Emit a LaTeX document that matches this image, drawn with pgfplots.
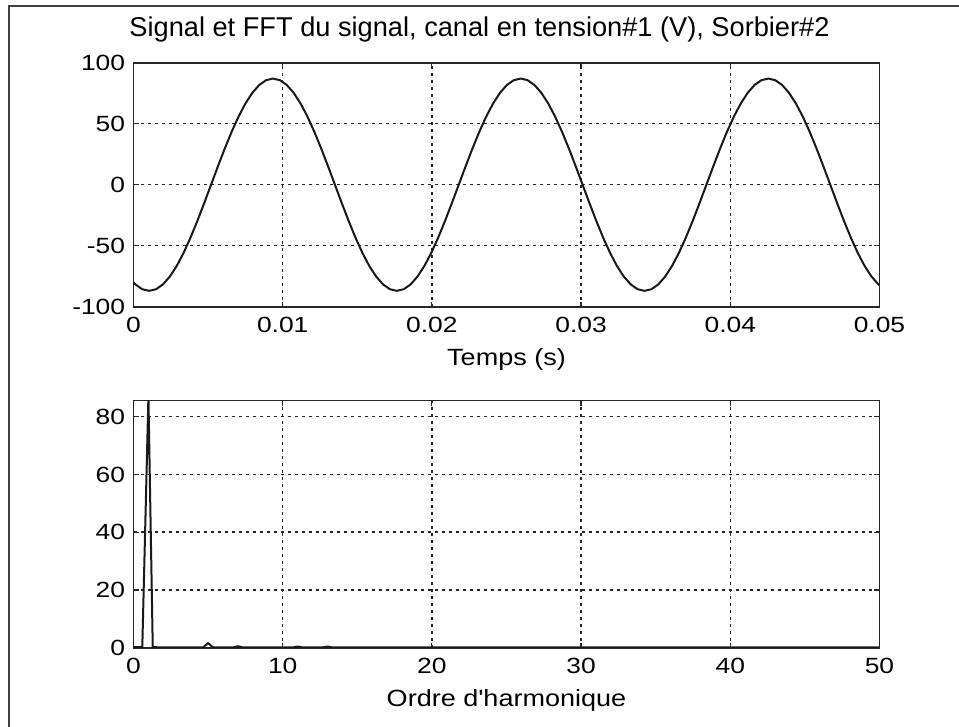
\documentclass[border=0pt]{standalone}
\usepackage{pgfplots}
\pgfplotsset{compat=1.18}
\usepackage{fontspec}
\setmainfont{Liberation Sans}
\newfontfamily\tickfont[FakeStretch=1.2]{Liberation Sans}
\newfontfamily\labelfont[FakeStretch=1.15]{Liberation Sans}
\pgfplotsset{mlab/.style={
  scale only axis, width=373pt,
  axis line style={line width=0.8pt, black!85},
  tick style={line width=0.6pt, black!85},
  major tick length=2.5pt,
  tick align=inside, xtick pos=both, ytick pos=both,
  xticklabel pos=lower, yticklabel pos=left,
  scaled x ticks=false, scaled y ticks=false,
  grid=major,
  major grid style={line width=0.75pt, black!85, dash pattern=on 1.5pt off 2pt},
  ticklabel style={font=\tickfont\fontsize{11}{13}\selectfont, inner sep=0pt},
  xticklabel style={yshift=-5pt},
  yticklabel style={xshift=-4pt},
  xlabel style={font=\labelfont\fontsize{11.75}{14}\selectfont, at={(axis description cs:0.5,0)}, anchor=north, yshift=-20.5pt, inner sep=0pt},
}}
\begin{document}
\begin{tikzpicture}
\useasboundingbox (0,0) rectangle (479.5pt,-363.5pt);
\draw[black!75, line width=0.7pt] (4.5pt,-363.5pt) -- (4.5pt,-3pt) -- (479.5pt,-3pt);
\draw[black!75, line width=1.1pt] (4.5pt,-3pt) -- (4.5pt,-59pt);
\node[anchor=base, inner sep=0pt] at (239.75pt,-18.35pt) {\fontsize{13.6}{16}\selectfont Signal et FFT du signal, canal en tension\#1 (V), Sorbier\#2};

\begin{axis}[mlab, height=122pt, at={(66.75pt,-153.35pt)}, anchor=south west,
  xmin=0, xmax=0.05, ymin=-100, ymax=100,
  xtick={0,0.01,0.02,0.03,0.04,0.05}, xticklabels={0,0.01,0.02,0.03,0.04,0.05},
  ytick={-100,-50,0,50,100}, yticklabels={-100,-50,0,50,100},
  xlabel={Temps (s)}]
\addplot[black!90, line width=1pt] coordinates {
(0,-80.2) (0.000128,-81.75) (0.000589,-85.68) (0.001050,-87) (0.001511,-85.68)
(0.001972,-81.75) (0.002433,-75.34) (0.002894,-66.65) (0.003356,-55.92) (0.003817,-43.5)
(0.004278,-29.76) (0.004739,-15.11) (0.005200,0) (0.005661,15.11) (0.006122,29.76)
(0.006583,43.5) (0.007044,55.92) (0.007506,66.65) (0.007967,75.34) (0.008428,81.75)
(0.008889,85.68) (0.009350,87) (0.009811,85.68) (0.010272,81.75) (0.010733,75.34)
(0.011194,66.65) (0.011656,55.92) (0.012117,43.5) (0.012578,29.76) (0.013039,15.11)
(0.013500,0) (0.013961,-15.11) (0.014422,-29.76) (0.014883,-43.5) (0.015344,-55.92)
(0.015806,-66.65) (0.016267,-75.34) (0.016728,-81.75) (0.017189,-85.68) (0.017650,-87)
(0.018111,-85.68) (0.018572,-81.75) (0.019033,-75.34) (0.019494,-66.65) (0.019956,-55.92)
(0.020417,-43.5) (0.020878,-29.76) (0.021339,-15.11) (0.021800,0) (0.022261,15.11)
(0.022722,29.76) (0.023183,43.5) (0.023644,55.92) (0.024106,66.65) (0.024567,75.34)
(0.025028,81.75) (0.025489,85.68) (0.025950,87) (0.026411,85.68) (0.026872,81.75)
(0.027333,75.34) (0.027794,66.65) (0.028256,55.92) (0.028717,43.5) (0.029178,29.76)
(0.029639,15.11) (0.030100,0) (0.030561,-15.11) (0.031022,-29.76) (0.031483,-43.5)
(0.031944,-55.92) (0.032406,-66.65) (0.032867,-75.34) (0.033328,-81.75) (0.033789,-85.68)
(0.034250,-87) (0.034711,-85.68) (0.035172,-81.75) (0.035633,-75.34) (0.036094,-66.65)
(0.036556,-55.92) (0.037017,-43.5) (0.037478,-29.76) (0.037939,-15.11) (0.038400,0)
(0.038861,15.11) (0.039322,29.76) (0.039783,43.5) (0.040244,55.92) (0.040706,66.65)
(0.041167,75.34) (0.041628,81.75) (0.042089,85.68) (0.042550,87) (0.043011,85.68)
(0.043472,81.75) (0.043933,75.34) (0.044394,66.65) (0.044856,55.92) (0.045317,43.5)
(0.045778,29.76) (0.046239,15.11) (0.046700,0) (0.047161,-15.11) (0.047622,-29.76)
(0.048083,-43.5) (0.048544,-55.92) (0.049006,-66.65) (0.049467,-75.34) (0.049928,-81.75)
(0.05,-82.5)
};
\end{axis}

\begin{axis}[mlab, height=123.5pt, at={(66.75pt,-323.85pt)}, anchor=south west,
  xmin=0, xmax=50, ymin=0, ymax=85.54,
  xtick={0,10,20,30,40,50}, xticklabels={0,10,20,30,40,50},
  ytick={0,20,40,60,80}, yticklabels={0,20,40,60,80},
  xlabel={Ordre d'harmonique}]
\addplot[black!90, line width=1pt] coordinates {
(0,0.2) (0.333,0.2) (0.59,0.3) (1.0,87) (1.29,0.3) (1.667,0.1) (2,0.1) (3,0.1)
(4.667,0.1) (5,1.6) (5.333,0.1) (6.667,0.1) (7,0.5) (7.333,0.1)
(10.667,0.1) (11,0.4) (11.333,0.1) (12.667,0.1) (13,0.4) (13.333,0.1) (50,0.1)
};
\end{axis}
\end{tikzpicture}
\end{document}
